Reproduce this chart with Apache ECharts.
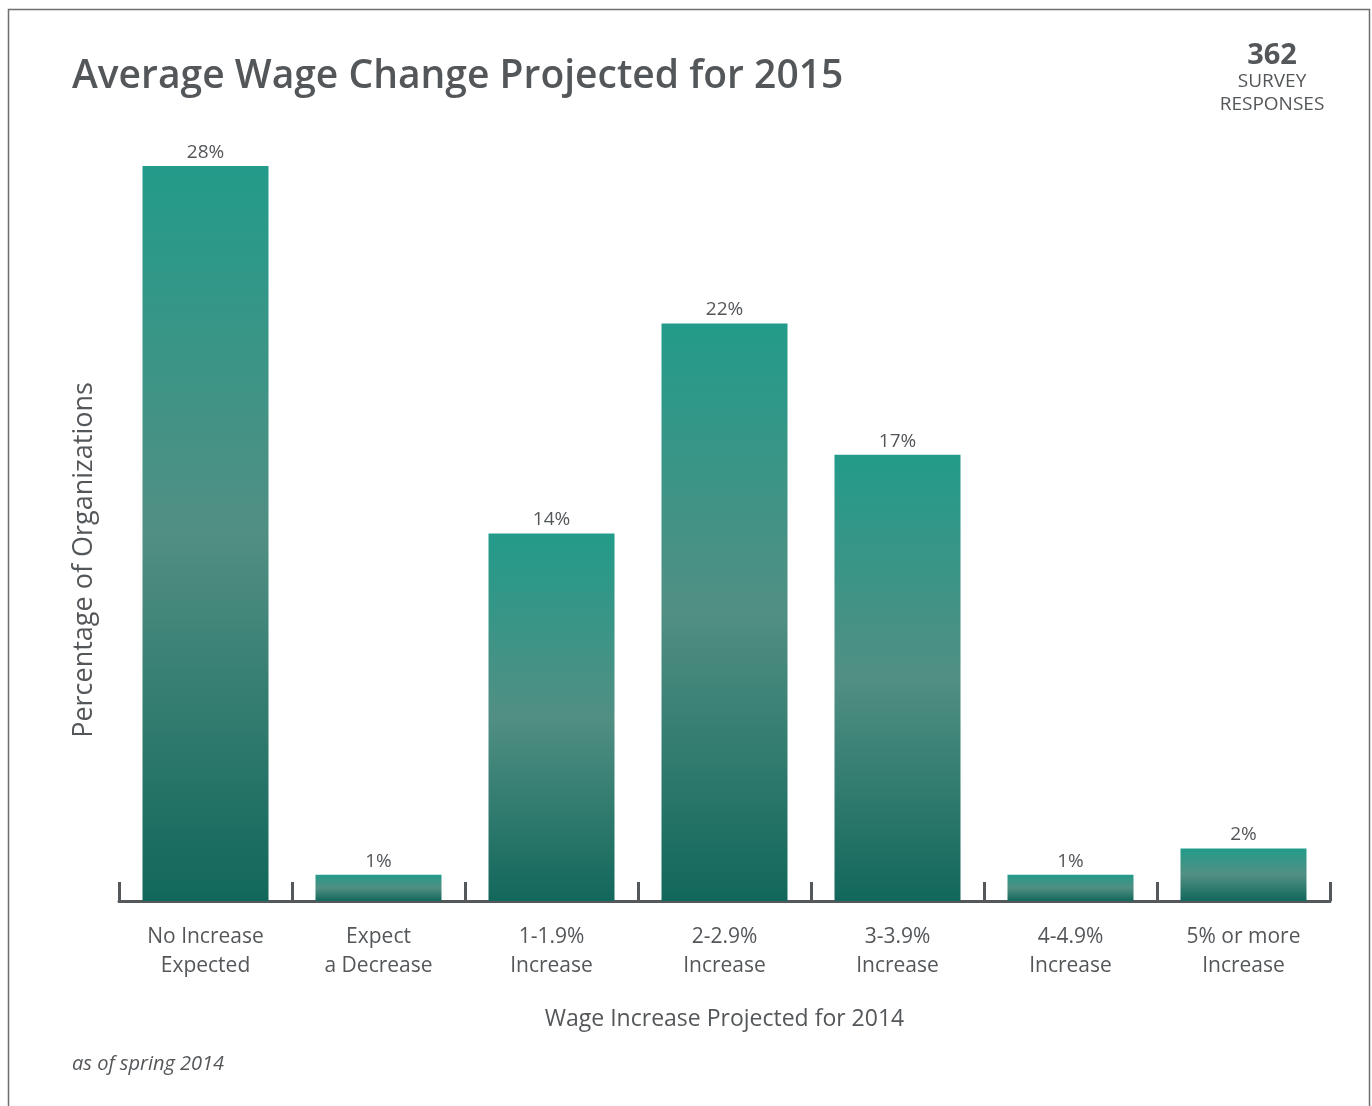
<!DOCTYPE html>
<html>
<head>
<meta charset="utf-8">
<style>
  html, body { margin: 0; padding: 0; background: #fff; }
  #chart { width: 1372px; height: 1106px; }
</style>
<script src="https://cdn.jsdelivr.net/npm/echarts@6/dist/echarts.min.js"></script>
</head>
<body>
<div id="chart"></div>
<script>
// categories (x axis) and share of organizations, in %
const categories = [
  'No Increase\nExpected',
  'Expect\na Decrease',
  '1-1.9%\nIncrease',
  '2-2.9%\nIncrease',
  '3-3.9%\nIncrease',
  '4-4.9%\nIncrease',
  '5% or more\nIncrease'
];
const percentages = [28, 1, 14, 22, 17, 1, 2];

const responses = 362;

const textColor = '#54575a';
const font = '"Open Sans", "Noto Sans", sans-serif';

// 每个柱子自己的渐变 (top teal -> grey teal -> dark teal)
const barGradient = new echarts.graphic.LinearGradient(0, 0, 0, 1, [
  { offset: 0, color: '#239b8a' },
  { offset: 0.5, color: '#518f83' },
  { offset: 1, color: '#12675b' }
]);

const chart = echarts.init(document.getElementById('chart'));

const option = {
  backgroundColor: '#fff',
  animation: false,
  textStyle: { fontFamily: font, color: textColor },
  grid: { left: 119, right: 42, top: 166, bottom: 205 },
  xAxis: {
    type: 'category',
    data: categories,
    boundaryGap: true,
    axisLine: { show: true, lineStyle: { color: '#55585b', width: 3 } },
    axisTick: {
      show: true,
      inside: true,
      length: 19,
      interval: 0,
      lineStyle: { color: '#55585b', width: 3 }
    },
    axisLabel: {
      interval: 0,
      margin: 22,
      fontSize: 21,
      fontWeight: 500,
      lineHeight: 29,
      color: textColor,
      fontFamily: font
    },
    name: 'Wage Increase Projected for 2014',
    nameLocation: 'middle',
    nameGap: 107,
    nameTextStyle: { fontSize: 23, fontWeight: 500, color: textColor, fontFamily: font }
  },
  yAxis: {
    type: 'value',
    min: 0,
    max: 28,
    show: false
  },
  series: [{
    type: 'bar',
    data: percentages,
    barWidth: 126,
    itemStyle: { color: barGradient },
    label: {
      show: true,
      position: 'top',
      distance: 4,
      formatter: p => p.value + '%',
      fontSize: 19,
      fontWeight: 500,
      color: textColor,
      fontFamily: font
    }
  }],
  graphic: [
    {
      type: 'rect',
      shape: { x: 8.5, y: 9.5, width: 1361, height: 1120 },
      style: { fill: 'none', stroke: '#6e6e6e', lineWidth: 1.5 },
      silent: true
    },
    {
      type: 'text',
      left: 72,
      top: 57,
      style: {
        text: 'Average Wage Change Projected for 2015',
        fontSize: 39,
        fontWeight: 600,
        fill: textColor,
        fontFamily: font
      }
    },
    {
      type: 'text',
      x: 1272,
      y: 56,
      style: {
        text: String(responses),
        fontSize: 29,
        fontWeight: 'bold',
        fill: textColor,
        fontFamily: font,
        align: 'center',
        verticalAlign: 'middle'
      }
    },
    {
      type: 'text',
      x: 1272,
      y: 82,
      style: {
        text: 'SURVEY',
        fontSize: 19,
        fill: textColor,
        fontFamily: font,
        align: 'center',
        verticalAlign: 'middle'
      }
    },
    {
      type: 'text',
      x: 1272,
      y: 105,
      style: {
        text: 'RESPONSES',
        fontSize: 19,
        fill: textColor,
        fontFamily: font,
        align: 'center',
        verticalAlign: 'middle'
      }
    },
    {
      type: 'text',
      x: 84,
      y: 560,
      rotation: Math.PI / 2,
      style: {
        text: 'Percentage of Organizations',
        fontSize: 27,
        fontWeight: 500,
        fill: textColor,
        fontFamily: font,
        align: 'center',
        verticalAlign: 'middle'
      }
    },
    {
      type: 'text',
      x: 72,
      y: 1064,
      style: {
        text: 'as of spring 2014',
        fontSize: 20,
        fontStyle: 'italic',
        fill: textColor,
        fontFamily: font,
        verticalAlign: 'middle'
      }
    }
  ]
};

chart.setOption(option);
</script>
</body>
</html>
